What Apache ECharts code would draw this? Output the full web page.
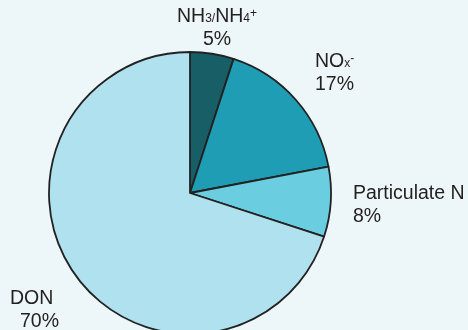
<!DOCTYPE html>
<html>
<head>
<meta charset="utf-8">
<style>
  html, body { margin: 0; padding: 0; background: #edf6f8; }
  #chart { width: 468px; height: 330px; }
</style>
<script src="https://cdn.jsdelivr.net/npm/echarts@6/dist/echarts.min.js"></script>
</head>
<body>
<div id="chart"></div>
<script>
// Nitrogen species shares (percent), clockwise from 12 o'clock
const categories = ['NH3/NH4+', 'NOx-', 'Particulate N', 'DON'];
const shares = [5, 17, 8, 70];
const colors = ['#175e66', '#1f9db4', '#6acde0', '#b0e1ee'];

// Rich-text label for each slice (chemical formulas with sub/superscripts)
const labelText = [
  '{a|NH}{sub|3/}{a|NH}{sub|4}{sup|+}\n{a|' + shares[0] + '%}',
  '{a|NO}{sub|x}{sup|-}\n{a|' + shares[1] + '%}',
  '{a|Particulate N}\n{a|' + shares[2] + '%}',
  '{a|DON}\n{ind|' + shares[3] + '%}'
];

// Label anchor placement per slice
const labelSpots = [
  { x: 217, y: 5, align: 'center' },
  { x: 315, y: 50, align: 'left' },
  { x: 353, y: 182, align: 'left' },
  { x: 10, y: 287, align: 'left' }
];

const FONT = 'Liberation Sans, Arial, sans-serif';
const INK = '#231f20';

const chart = echarts.init(document.getElementById('chart'), null, { renderer: 'canvas' });

chart.setOption({
  backgroundColor: '#edf6f8',
  animation: false,
  series: [{
    type: 'pie',
    center: [190, 193],
    radius: 141,
    startAngle: 90,
    clockwise: true,
    avoidLabelOverlap: false,
    data: categories.map((name, i) => ({
      name,
      value: shares[i],
      itemStyle: { color: colors[i] },
      label: { formatter: labelText[i] }
    })),
    itemStyle: { borderColor: '#222', borderWidth: 1.8 },
    label: {
      show: true,
      position: 'outside',
      color: INK,
      fontFamily: FONT,
      lineHeight: 23,
      rich: {
        a: { fontSize: 19.5, lineHeight: 23, color: INK, fontFamily: FONT },
        ind: { fontSize: 19.5, lineHeight: 23, padding: [0, 0, 0, 10], color: INK, fontFamily: FONT },
        sub: { fontSize: 12, lineHeight: 12, verticalAlign: 'bottom', padding: [0, 0, 3, 0], color: INK, fontFamily: FONT },
        sup: { fontSize: 12, lineHeight: 12, verticalAlign: 'top', padding: [3, 0, 0, 0], color: INK, fontFamily: FONT }
      }
    },
    labelLine: { show: false },
    labelLayout: function (params) {
      const s = labelSpots[params.dataIndex];
      return { x: s.x, y: s.y, align: s.align, verticalAlign: 'top' };
    },
    emphasis: { disabled: true }
  }]
});
</script>
</body>
</html>
